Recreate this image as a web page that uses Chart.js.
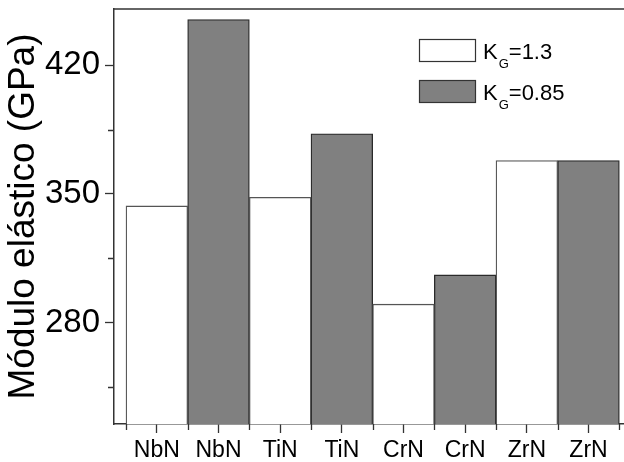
<!DOCTYPE html>
<html>
<head>
<meta charset="utf-8">
<script src="https://cdn.jsdelivr.net/npm/chart.js@4.4.0/dist/chart.umd.min.js"></script>
<style>
  html, body { margin: 0; padding: 0; background: #fff; overflow: hidden; }
  canvas { display: block; }
</style>
</head>
<body>
<canvas id="modulusChart" width="626" height="462"></canvas>
<script>
const categories = ['NbN', 'NbN', 'TiN', 'TiN', 'CrN', 'CrN', 'ZrN', 'ZrN'];
const kg13Values = [343.5, null, 348.2, null, 290.1, null, 368.1, null];
const kg085Values = [null, 444.8, null, 382.7, null, 306.0, null, 368.1];
const seriesLabels = ['K_G=1.3', 'K_G=0.85'];
const yMajorTicks = [280, 350, 420];
const yMinorTicks = [245, 315, 385];

const FONT = "'Liberation Sans', Arial, sans-serif";

function toPoints(values) {
    return values
        .map((v, i) => ({ x: i, y: v }))
        .filter(p => p.y !== null);
}

const framePlugin = {
    id: 'frame',
    afterDraw(chart) {
        const { ctx, chartArea, scales } = chart;
        ctx.save();
        ctx.strokeStyle = '#333';

        // top border of the frame
        ctx.lineWidth = 1.5;
        ctx.beginPath();
        ctx.moveTo(chartArea.left, chartArea.top);
        ctx.lineTo(chartArea.right, chartArea.top);
        ctx.stroke();

        // minor ticks
        ctx.lineWidth = 1.3;
        ctx.beginPath();
        yMinorTicks.forEach(v => {
            const y = Math.round(scales.y.getPixelForValue(v)) + 0.5;
            ctx.moveTo(chartArea.left - 6, y);
            ctx.lineTo(chartArea.left, y);
        });
        for (let i = -0.5; i < categories.length; i++) {
            const x = Math.round(scales.x.getPixelForValue(i)) + 0.5;
            ctx.moveTo(x, chartArea.bottom);
            ctx.lineTo(x, chartArea.bottom + 6);
        }
        ctx.stroke();

        // legend with subscript
        chart.data.datasets.forEach((ds, i) => {
            const bx = chartArea.left + 305;
            const by = chartArea.top + 30 + i * 41;
            ctx.fillStyle = ds.backgroundColor;
            ctx.fillRect(bx, by, 57, 23);
            ctx.strokeStyle = '#333';
            ctx.lineWidth = 1.2;
            ctx.strokeRect(bx + 0.5, by + 0.5, 56, 22);

            const m = ds.label.match(/^(.*)_(.)(.*)$/);
            let tx = bx + 64;
            const base = by + 20;
            ctx.fillStyle = '#000';
            ctx.textBaseline = 'alphabetic';
            ctx.textAlign = 'left';
            ctx.font = '22px ' + FONT;
            ctx.fillText(m[1], tx, base);
            tx += ctx.measureText(m[1]).width + 1;
            ctx.font = '13px ' + FONT;
            ctx.fillText(m[2], tx, base + 9);
            tx += ctx.measureText(m[2]).width;
            ctx.font = '22px ' + FONT;
            ctx.fillText(m[3], tx, base);
        });
        ctx.restore();
    }
};

const ctx = document.getElementById('modulusChart').getContext('2d');

new Chart(ctx, {
    type: 'bar',
    data: {
        datasets: [{
            label: seriesLabels[0],
            data: toPoints(kg13Values),
            backgroundColor: '#ffffff',
            borderColor: '#555555',
            borderWidth: 1.3
        }, {
            label: seriesLabels[1],
            data: toPoints(kg085Values),
            backgroundColor: '#808080',
            borderColor: '#2a2a2a',
            borderWidth: 1.3
        }]
    },
    options: {
        responsive: false,
        animation: false,
        grouped: false,
        barPercentage: 1,
        categoryPercentage: 1,
        layout: { padding: { top: 9, right: 0, left: 0, bottom: 0 } },
        plugins: {
            legend: { display: false },
            tooltip: { enabled: false }
        },
        scales: {
            x: {
                type: 'linear',
                offset: false,
                min: -0.6946,
                max: 7.608,
                afterBuildTicks: scale => {
                    scale.ticks = categories.map((c, i) => ({ value: i }));
                },
                afterFit: scale => {
                    scale.height = 38;
                    scale.paddingLeft = 0;
                    scale.paddingRight = 0;
                },
                ticks: {
                    autoSkip: false,
                    maxRotation: 0,
                    padding: 4,
                    color: '#000',
                    font: { family: FONT, size: 23 },
                    callback: value => categories[value]
                },
                grid: {
                    offset: false,
                    drawOnChartArea: false,
                    tickLength: 9,
                    tickWidth: 1.3,
                    tickColor: '#333'
                },
                border: { color: '#333', width: 1.5 }
            },
            y: {
                min: 225,
                max: 450.5,
                afterBuildTicks: scale => {
                    scale.ticks = yMajorTicks.map(v => ({ value: v }));
                },
                afterFit: scale => {
                    scale.width = 114;
                    scale.paddingTop = 0;
                    scale.paddingBottom = 0;
                },
                ticks: {
                    padding: 5,
                    color: '#000',
                    font: { family: FONT, size: 33 }
                },
                grid: {
                    drawOnChartArea: false,
                    tickLength: 9,
                    tickWidth: 1.3,
                    tickColor: '#333'
                },
                border: { color: '#333', width: 1.5 },
                title: {
                    display: true,
                    text: 'Módulo elástico (GPa)',
                    color: '#000',
                    padding: { top: 2, bottom: 0 },
                    font: { family: FONT, size: 37 }
                }
            }
        }
    },
    plugins: [framePlugin]
});
</script>
</body>
</html>
